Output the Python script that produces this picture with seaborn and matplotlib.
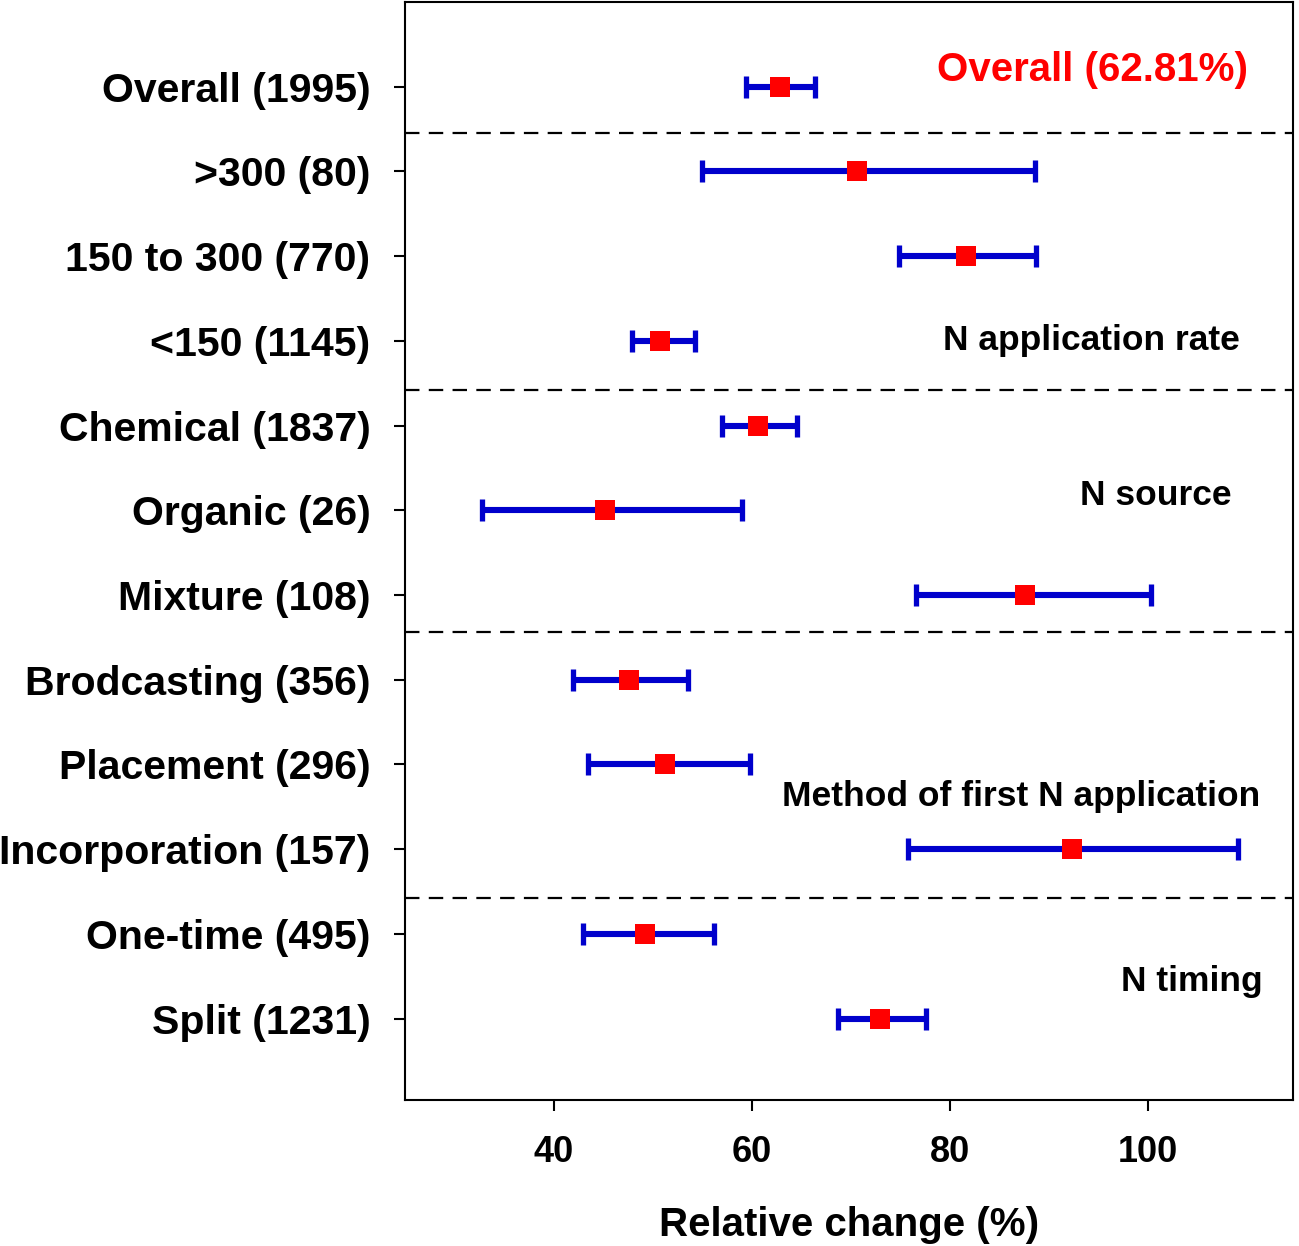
import numpy as np
import pandas as pd
import seaborn as sns
import matplotlib.pyplot as plt

# %%

### Subgroup labels (n in brackets), top to bottom
labels = ["Overall (1995)", ">300 (80)", "150 to 300 (770)", "<150 (1145)",
          "Chemical (1837)", "Organic (26)", "Mixture (108)",
          "Brodcasting (356)", "Placement (296)", "Incorporation (157)",
          "One-time (495)", "Split (1231)"]

### Mean relative change and 95% CI bounds (%)
means = [62.81, 70.6, 81.6, 50.7, 60.6, 45.2, 87.6, 47.6, 51.2, 92.3, 49.2, 72.9]
lower = [59.4, 55.0, 74.8, 47.9, 57.0, 32.8, 76.6, 41.9, 43.5, 75.8, 43.0, 68.7]
upper = [66.4, 88.6, 88.7, 54.3, 64.6, 59.0, 100.3, 53.6, 59.8, 109.0, 56.2, 77.6]

### Group captions and where they sit
group_names = ["N application rate", "N source", "Method of first N application", "N timing"]
group_x = [94.3, 100.8, 87.2, 104.4]
group_y = [9.0, 7.17, 3.62, 1.44]

### Dashed separators between groups
sep_y = [11.45, 8.42, 5.56, 2.42]

xticks = [40, 60, 80, 100]

# %%

df = pd.DataFrame({"label": labels, "mean": means, "lo": lower, "hi": upper})
df["pos"] = np.arange(len(df), 0, -1)

sns.set_theme(style="ticks")
plt.rcParams['font.family'] = ['Liberation Sans', 'DejaVu Sans']
plt.rcParams['font.weight'] = 'bold'
for k in ['text.color', 'axes.labelcolor', 'xtick.color', 'ytick.color', 'axes.edgecolor']:
    plt.rcParams[k] = 'black'

fig = plt.figure(figsize=(12.99, 12.46), dpi=100)
ax = fig.add_axes([0.3118, 0.1172, 0.6836, 0.8812])

### CI bars
ax.errorbar(df["mean"], df["pos"],
            xerr=[df["mean"] - df["lo"], df["hi"] - df["mean"]],
            fmt='none', ecolor='#0000CC', elinewidth=4.4,
            capsize=8, capthick=3.8, zorder=2)

### Mean squares
sns.scatterplot(data=df, x="mean", y="pos", marker='s', s=200,
                color='#FF0000', linewidth=0, ax=ax, zorder=3)

for y in sep_y:
    ax.axhline(y, color='black', lw=1.6, ls=(0, (6.5, 4.2)), zorder=1)

ax.text(94.4, 12.2, "Overall (62.81%)", color='#FF0000', fontsize=29,
        fontweight='bold', ha='center', va='center')
for name, gx, gy in zip(group_names, group_x, group_y):
    ax.text(gx, gy, name, fontsize=25.5, fontweight='bold',
            ha='center', va='center', color='black')

ax.set_xlim(25, 114.6)
ax.set_ylim(0.04, 13.0)
ax.set_yticks(df["pos"])
ax.set_yticklabels(df["label"], fontsize=29.5, fontweight='bold')
ax.set_xticks(xticks)
ax.set_xticklabels([str(t) for t in xticks], fontsize=26, fontweight='bold')
ax.tick_params(axis='y', length=8, width=1.5, pad=17)
ax.tick_params(axis='x', length=8, width=1.5, pad=17)
ax.set_xlabel("Relative change (%)", fontsize=29, fontweight='bold', labelpad=26)
ax.set_ylabel("")

for sp in ax.spines.values():
    sp.set_visible(True)
    sp.set_linewidth(1.5)

fig.savefig("out.png", dpi=100)
